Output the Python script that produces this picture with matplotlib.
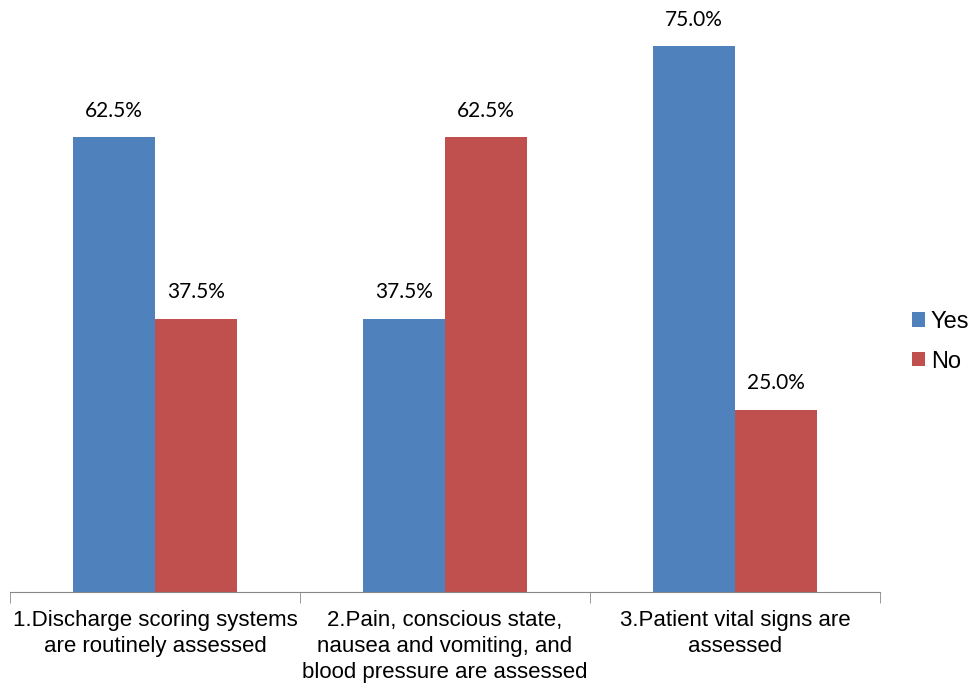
import matplotlib.pyplot as plt
import numpy as np

categories = ["1.Discharge scoring systems\nare routinely assessed",
              "2.Pain, conscious state,\nnausea and vomiting, and\nblood pressure are assessed",
              "3.Patient vital signs are\nassessed"]
yes_vals = [62.5, 37.5, 75.0]
no_vals = [37.5, 62.5, 25.0]

fig = plt.figure(figsize=(9.72, 6.83), dpi=100)
ax = fig.add_axes([10/972, 1 - 592/683, 870/972, 582/683])

x = np.arange(len(categories))
w = 0.283
b1 = ax.bar(x - w/2, yes_vals, w, color='#4F81BD', label='Yes')
b2 = ax.bar(x + w/2, no_vals, w, color='#C0504D', label='No')

for bars in (b1, b2):
    for r in bars:
        ax.text(r.get_x() + r.get_width()/2, r.get_height() + 2.3, f"{r.get_height():.1f}%",
                ha='center', va='bottom', fontsize=15, family='Lato')

ax.set_xlim(-0.5, 2.5)
ax.set_ylim(0, 80)
ax.set_yticks([])
for s in ('top', 'right', 'left'):
    ax.spines[s].set_visible(False)
ax.spines['bottom'].set_color('#888888')
ax.set_xticks(x)
ax.set_xticklabels(categories, fontsize=16, family='Liberation Sans', linespacing=1.3)
ax.tick_params(axis='x', which='major', length=0, pad=13)
ax.set_xticks([-0.5, 0.5, 1.5, 2.5], minor=True)
ax.tick_params(axis='x', which='minor', length=8, color='#888888')

ax.legend(loc='center left', bbox_to_anchor=(1.015, 0.43), frameon=False,
          prop={'family': 'Liberation Sans', 'size': 17}, handlelength=0.55,
          handleheight=0.55, handletextpad=0.25, labelspacing=0.75,
          borderaxespad=0.4)

fig.savefig('out.png', dpi=100)
